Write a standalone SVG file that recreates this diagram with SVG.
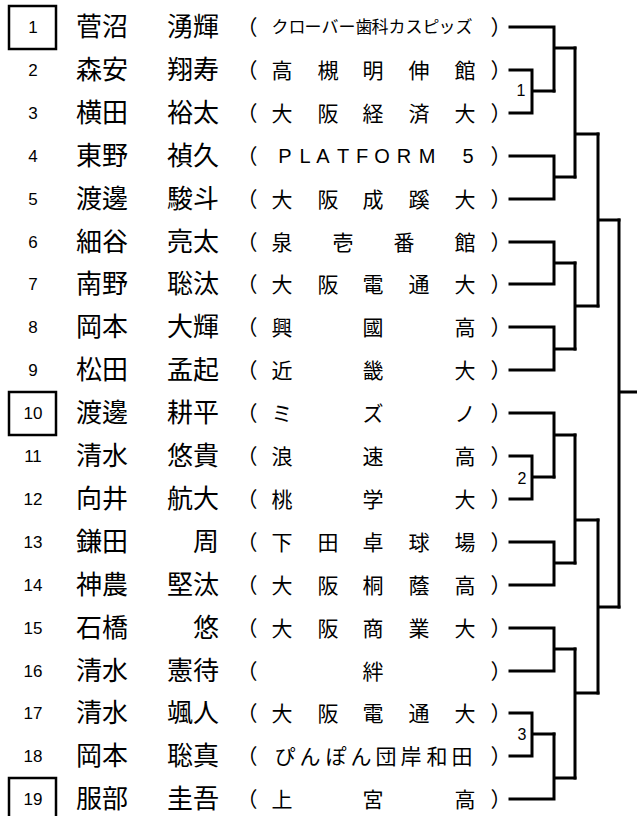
<svg xmlns="http://www.w3.org/2000/svg" width="637" height="816" viewBox="0 0 637 816">
<style>
.bg{fill:#ffffff}
.num{font-family:"Liberation Sans",Arial,sans-serif;font-size:17px;fill:#000;text-anchor:middle}
.nm{font-family:"Noto Sans CJK JP","Noto Sans",sans-serif;font-size:26px;fill:#000}
.ge{font-family:"Noto Sans CJK JP","Noto Sans",sans-serif;font-size:26px;fill:#000;text-anchor:end}
.af{font-family:"Noto Sans CJK JP","Noto Sans",sans-serif;font-size:21px;fill:#000;text-anchor:middle}
.afs{font-family:"Noto Sans CJK JP","Noto Sans",sans-serif;font-size:17px;fill:#000;text-anchor:middle}
.lat{font-family:"Liberation Sans",Arial,sans-serif;font-size:20px;fill:#000;text-anchor:middle}
.par{font-family:"Noto Sans CJK JP","Noto Sans",sans-serif;font-size:21px;fill:#000;text-anchor:middle}
.box{fill:none;stroke:#000;stroke-width:2.5}
.ln{fill:none;stroke:#000;stroke-width:3;stroke-linejoin:miter;stroke-linecap:square}
.mn{font-family:"Liberation Sans",Arial,sans-serif;font-size:16px;fill:#000;text-anchor:middle}
</style>
<rect class="bg" x="0" y="0" width="637" height="816"/>

<g id="seeds">
<rect class="box" x="9" y="6" width="47" height="43"/>
<rect class="box" x="9" y="392" width="47" height="43"/>
<rect class="box" x="9" y="778" width="47" height="43"/>
</g>

<g id="p1"><text class="num" x="33" y="33">1</text><text class="nm" x="76" y="36">菅沼</text><text class="ge" x="219" y="36">湧輝</text><text class="par" x="247" y="35">（</text><text class="afs" x="280 297 313 330 347 364 380 397 414 431 447 464" y="33">クローバー歯科カスピッズ</text><text class="par" x="501" y="35">）</text></g>
<g id="p2"><text class="num" x="33" y="76">2</text><text class="nm" x="76" y="79">森安</text><text class="ge" x="219" y="79">翔寿</text><text class="par" x="247" y="78">（</text><text class="af" x="282 328 373 419 465" y="78">高槻明伸館</text><text class="par" x="501" y="78">）</text></g>
<g id="p3"><text class="num" x="33" y="119">3</text><text class="nm" x="76" y="122">横田</text><text class="ge" x="219" y="122">裕太</text><text class="par" x="247" y="121">（</text><text class="af" x="282 328 373 419 465" y="121">大阪経済大</text><text class="par" x="501" y="121">）</text></g>
<g id="p4"><text class="num" x="33" y="162">4</text><text class="nm" x="76" y="165">東野</text><text class="ge" x="219" y="165">禎久</text><text class="par" x="247" y="164">（</text><text class="lat" x="285 305 323 343 362 382 404 427 447 468" y="163">PLATFORM 5</text><text class="par" x="501" y="164">）</text></g>
<g id="p5"><text class="num" x="33" y="205">5</text><text class="nm" x="76" y="208">渡邊</text><text class="ge" x="219" y="208">駿斗</text><text class="par" x="247" y="207">（</text><text class="af" x="282 328 373 419 465" y="207">大阪成蹊大</text><text class="par" x="501" y="207">）</text></g>
<g id="p6"><text class="num" x="33" y="248">6</text><text class="nm" x="76" y="251">細谷</text><text class="ge" x="219" y="251">亮太</text><text class="par" x="247" y="250">（</text><text class="af" x="282 343 404 465" y="250">泉壱番館</text><text class="par" x="501" y="250">）</text></g>
<g id="p7"><text class="num" x="33" y="290">7</text><text class="nm" x="76" y="293">南野</text><text class="ge" x="219" y="293">聡汰</text><text class="par" x="247" y="292">（</text><text class="af" x="282 328 373 419 465" y="292">大阪電通大</text><text class="par" x="501" y="292">）</text></g>
<g id="p8"><text class="num" x="33" y="333">8</text><text class="nm" x="76" y="336">岡本</text><text class="ge" x="219" y="336">大輝</text><text class="par" x="247" y="335">（</text><text class="af" x="282 373 465" y="335">興國高</text><text class="par" x="501" y="335">）</text></g>
<g id="p9"><text class="num" x="33" y="376">9</text><text class="nm" x="76" y="379">松田</text><text class="ge" x="219" y="379">孟起</text><text class="par" x="247" y="378">（</text><text class="af" x="282 373 465" y="378">近畿大</text><text class="par" x="501" y="378">）</text></g>
<g id="p10"><text class="num" x="33" y="419">10</text><text class="nm" x="76" y="422">渡邊</text><text class="ge" x="219" y="422">耕平</text><text class="par" x="247" y="421">（</text><text class="af" x="282 373 465" y="421">ミズノ</text><text class="par" x="501" y="421">）</text></g>
<g id="p11"><text class="num" x="33" y="462">11</text><text class="nm" x="76" y="465">清水</text><text class="ge" x="219" y="465">悠貴</text><text class="par" x="247" y="464">（</text><text class="af" x="282 373 465" y="464">浪速高</text><text class="par" x="501" y="464">）</text></g>
<g id="p12"><text class="num" x="33" y="505">12</text><text class="nm" x="76" y="508">向井</text><text class="ge" x="219" y="508">航大</text><text class="par" x="247" y="507">（</text><text class="af" x="282 373 465" y="507">桃学大</text><text class="par" x="501" y="507">）</text></g>
<g id="p13"><text class="num" x="33" y="548">13</text><text class="nm" x="76" y="551">鎌田</text><text class="ge" x="219" y="551">周</text><text class="par" x="247" y="550">（</text><text class="af" x="282 328 373 419 465" y="550">下田卓球場</text><text class="par" x="501" y="550">）</text></g>
<g id="p14"><text class="num" x="33" y="591">14</text><text class="nm" x="76" y="594">神農</text><text class="ge" x="219" y="594">堅汰</text><text class="par" x="247" y="593">（</text><text class="af" x="282 328 373 419 465" y="593">大阪桐蔭高</text><text class="par" x="501" y="593">）</text></g>
<g id="p15"><text class="num" x="33" y="634">15</text><text class="nm" x="76" y="637">石橋</text><text class="ge" x="219" y="637">悠</text><text class="par" x="247" y="636">（</text><text class="af" x="282 328 373 419 465" y="636">大阪商業大</text><text class="par" x="501" y="636">）</text></g>
<g id="p16"><text class="num" x="33" y="677">16</text><text class="nm" x="76" y="680">清水</text><text class="ge" x="219" y="680">憲待</text><text class="par" x="247" y="679">（</text><text class="af" x="373" y="679">絆</text><text class="par" x="501" y="679">）</text></g>
<g id="p17"><text class="num" x="33" y="719">17</text><text class="nm" x="76" y="722">清水</text><text class="ge" x="219" y="722">颯人</text><text class="par" x="247" y="721">（</text><text class="af" x="282 328 373 419 465" y="721">大阪電通大</text><text class="par" x="501" y="721">）</text></g>
<g id="p18"><text class="num" x="33" y="762">18</text><text class="nm" x="76" y="765">岡本</text><text class="ge" x="219" y="765">聡真</text><text class="par" x="247" y="764">（</text><text class="af" x="285 310 336 361 386 411 437 462" y="764">ぴんぽん団岸和田</text><text class="par" x="501" y="764">）</text></g>
<g id="p19"><text class="num" x="33" y="805">19</text><text class="nm" x="76" y="808">服部</text><text class="ge" x="219" y="808">圭吾</text><text class="par" x="247" y="807">（</text><text class="af" x="282 373 465" y="807">上宮高</text><text class="par" x="501" y="807">）</text></g>

<g id="connectors">
<path class="ln" d="M510,70 H532 V113 H510 M532,91 H554"/>
<path class="ln" d="M510,27 H554 V91 M554,48 H575"/>
<path class="ln" d="M510,156 H554 V199 H510 M554,177 H575"/>
<path class="ln" d="M575,48 V177 M575,134 H598"/>
<path class="ln" d="M510,242 H554 V284 H510 M554,263 H575"/>
<path class="ln" d="M510,327 H554 V370 H510 M554,349 H575"/>
<path class="ln" d="M575,263 V349 M575,306 H598"/>
<path class="ln" d="M598,134 V306 M598,220 H619"/>
<path class="ln" d="M510,456 H532 V499 H510 M532,477 H554"/>
<path class="ln" d="M510,413 H554 V477 M554,435 H575"/>
<path class="ln" d="M510,542 H554 V585 H510 M554,563 H575"/>
<path class="ln" d="M575,435 V563 M575,520 H598"/>
<path class="ln" d="M510,628 H554 V671 H510 M554,649 H575"/>
<path class="ln" d="M510,713 H532 V756 H510 M532,734 H554"/>
<path class="ln" d="M510,799 H554 V734 M554,778 H575"/>
<path class="ln" d="M575,649 V778 M575,693 H598"/>
<path class="ln" d="M598,520 V693 M598,607 H619"/>
<path class="ln" d="M619,220 V607 M619,392 H640"/>
</g>
<g id="match-labels">
<text class="mn" x="521" y="96">1</text>
<text class="mn" x="522" y="484">2</text>
<text class="mn" x="522" y="740">3</text>
</g>
</svg>
